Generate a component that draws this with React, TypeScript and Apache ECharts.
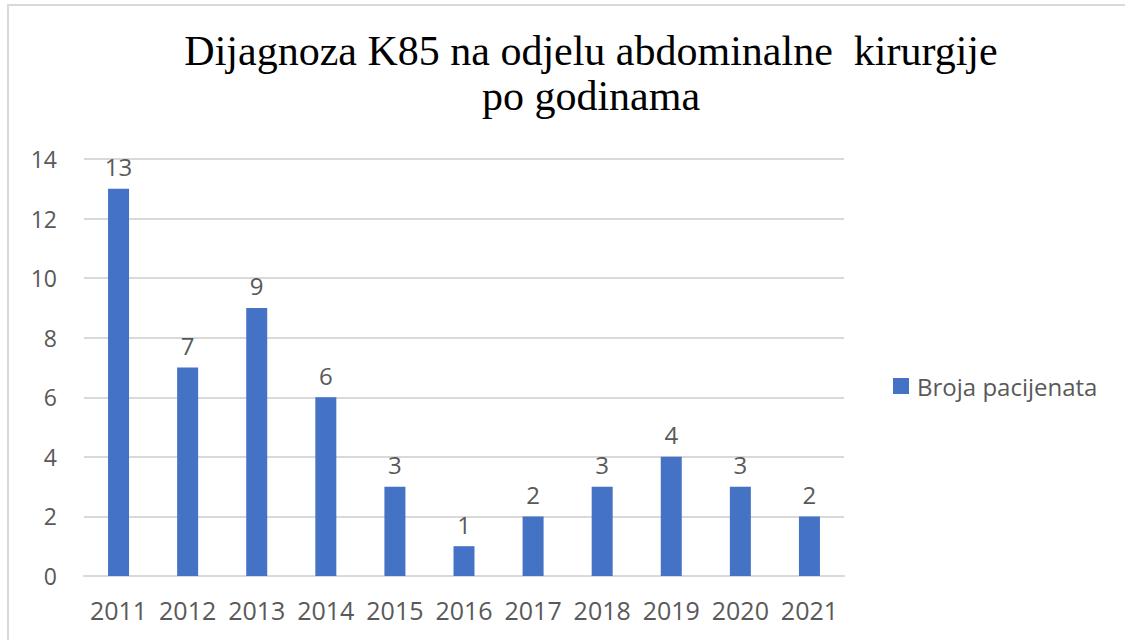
import React, { useEffect, useRef } from "react";
import * as echarts from "echarts";

const categories = ["2011", "2012", "2013", "2014", "2015", "2016", "2017", "2018", "2019", "2020", "2021"];
const patients = [13, 7, 9, 6, 3, 1, 2, 3, 4, 3, 2];
const seriesName = "Broja pacijenata";
const titleText = "Dijagnoza K85 na odjelu abdominalne  kirurgije\npo godinama";

export default function App() {
  const ref = useRef<HTMLDivElement>(null);
  useEffect(() => {
    document.body.style.margin = "0";
    const chart = echarts.init(ref.current!, undefined, { renderer: "svg" });
    const labelFont = "'Open Sans', 'Noto Sans', sans-serif";
    chart.setOption({
      animation: false,
      backgroundColor: "#ffffff",
      title: {
        text: titleText,
        left: 591,
        top: 28,
        textAlign: "center",
        padding: 0,
        textStyle: {
          fontFamily: "'Liberation Serif', serif",
          fontSize: 42,
          fontWeight: "normal",
          color: "#000000",
          lineHeight: 45,
        },
      },
      legend: {
        left: 893,
        top: 374,
        padding: 0,
        itemWidth: 16,
        itemHeight: 16,
        itemGap: 8,
        icon: "rect",
        textStyle: { fontFamily: labelFont, fontSize: 24, color: "#595959", padding: [0, 0, 0, 3] },
        data: [seriesName],
      },
      graphic: [
        {
          type: "rect",
          shape: { x: 8, y: 5, width: 1200, height: 700 },
          style: { fill: "none", stroke: "#d9d9d9", lineWidth: 2 },
          silent: true,
        },
      ],
      grid: { left: 84, right: 281, top: 159, bottom: 64, containLabel: false },
      xAxis: {
        type: "category",
        data: categories,
        axisLine: { show: true, lineStyle: { color: "#d9d9d9", width: 2 } },
        axisTick: { show: false },
        axisLabel: { fontFamily: labelFont, fontSize: 25, color: "#595959", margin: 21, interval: 0 },
      },
      yAxis: {
        type: "value",
        min: 0,
        max: 14,
        interval: 2,
        axisLine: { show: false },
        axisTick: { show: false },
        splitLine: { lineStyle: { color: "#d9d9d9", width: 2 } },
        axisLabel: { fontFamily: labelFont, fontSize: 23, color: "#595959", margin: 27 },
      },
      series: [
        {
          name: seriesName,
          type: "bar",
          data: patients,
          barWidth: 21,
          itemStyle: { color: "#4472C4" },
          label: {
            show: true,
            position: "top",
            distance: 10,
            fontFamily: labelFont,
            fontSize: 24,
            color: "#595959",
          },
        },
      ],
    });
    return () => chart.dispose();
  }, []);
  return <div ref={ref} style={{ width: 1125, height: 640 }} />;
}
